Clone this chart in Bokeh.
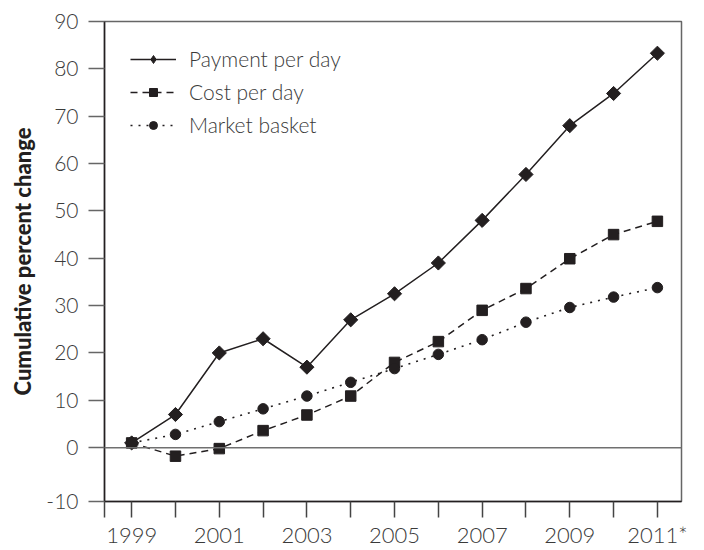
import math
from bokeh.plotting import figure
from bokeh.models import FixedTicker, Span, Range1d, Legend, LegendItem
from bokeh.embed import file_html
from bokeh.resources import INLINE

years = [1999, 2000, 2001, 2002, 2003, 2004, 2005, 2006, 2007, 2008, 2009, 2010, 2011]
payment_per_day = [1.0, 7.0, 20.0, 23.0, 17.0, 27.0, 32.5, 39.0, 48.0, 57.7, 68.0, 74.8, 83.3]
cost_per_day = [1.0, -1.8, -0.2, 3.6, 6.9, 10.9, 18.0, 22.4, 29.0, 33.6, 39.9, 45.0, 47.8]
market_basket = [1.0, 2.8, 5.5, 8.2, 10.9, 13.8, 16.7, 19.7, 22.8, 26.5, 29.6, 31.8, 33.8]

y_ticks = [0, 10, 20, 30, 40, 50, 60, 70, 80, 90]
x_labels = {1999: "1999", 2001: "2001", 2003: "2003", 2005: "2005",
            2007: "2007", 2009: "2009", 2011: "2011*"}

FONT = "Lato Light"
TITLE_FONT = "Lato Black"
INK = "#231f20"
GREY = "#666666"
TXT = "#3a3a3a"

x_start, x_end = 1998.38, 2011.55
y_start, y_end = -11.37, 90

p = figure(width=700, height=550, output_backend="svg", toolbar_location=None,
           x_range=Range1d(x_start, x_end), y_range=Range1d(y_start, y_end),
           min_border_left=104, min_border_right=19, min_border_top=21,
           min_border_bottom=48)
p.grid.visible = False
p.outline_line_color = GREY
p.outline_line_width = 1.5
p.background_fill_color = "white"
p.border_fill_color = "white"

zero = Span(location=0, dimension="width", line_color="#707070", line_width=1.5)
p.add_layout(zero)

l1 = p.line(years, payment_per_day, line_color=INK, line_width=1.5)
m1 = p.scatter(years, payment_per_day, marker="square", angle=math.pi / 4, size=10,
               fill_color=INK, line_color=INK)
# legend-only sample for the diamond symbol (legend ignores marker angle)
m1_key = p.scatter(years, payment_per_day, marker="diamond", size=15,
                   fill_color=INK, line_color=INK, visible=False)
l2 = p.line(years, cost_per_day, line_color=INK, line_width=1.5, line_dash="7 5")
m2 = p.scatter(years, cost_per_day, marker="square", size=10.5,
               fill_color=INK, line_color=INK)
l3 = p.line(years, market_basket, line_color=INK, line_width=1.6, line_dash="2 6")
m3 = p.scatter(years, market_basket, marker="circle", size=10.5,
               fill_color=INK, line_color=INK)

legend = Legend(items=[
    LegendItem(label="Payment per day", renderers=[l1, m1_key]),
    LegendItem(label="Cost per day", renderers=[l2, m2]),
    LegendItem(label="Market basket", renderers=[l3, m3]),
], location=(26, 364))
legend.margin = 0
legend.padding = 0
legend.border_line_color = None
legend.background_fill_alpha = 0
legend.glyph_width = 46
legend.glyph_height = 20
legend.label_height = 20
legend.spacing = 8
legend.label_standoff = 13
legend.label_text_font = FONT
legend.label_text_font_size = "21px"
legend.label_text_color = TXT
p.add_layout(legend)

# x axis
xa = p.xaxis[0]
xticks = [x_start] + years
xa.ticker = FixedTicker(ticks=xticks)
overrides = {}
for t in xticks:
    overrides[t] = x_labels.get(t, "")
xa.major_label_overrides = overrides
xa.minor_tick_line_color = None
xa.major_tick_in = 0
xa.major_tick_out = 16
xa.major_label_standoff = 3
xa.axis_line_color = INK
xa.axis_line_width = 1.5
xa.major_tick_line_color = "#444444"
xa.major_tick_line_width = 1.5
xa.major_label_text_font = FONT
xa.major_label_text_font_size = "22px"
xa.major_label_text_color = TXT

# y axis
ya = p.yaxis[0]
yticks = [y_start] + y_ticks
ya.ticker = FixedTicker(ticks=yticks)
yo = {y_start: "-10"}
for t in y_ticks:
    yo[t] = str(t)
ya.major_label_overrides = yo
ya.minor_tick_line_color = None
ya.major_tick_in = 0
ya.major_tick_out = 16
ya.major_label_standoff = 10
ya.axis_line_color = INK
ya.axis_line_width = 1.5
ya.major_tick_line_color = GREY
ya.major_tick_line_width = 1.5
ya.major_label_text_font = FONT
ya.major_label_text_font_size = "21px"
ya.major_label_text_color = TXT
ya.axis_label = "Cumulative percent change"
ya.axis_label_text_font = TITLE_FONT
ya.axis_label_text_font_style = "normal"
ya.axis_label_text_font_size = "22px"
ya.axis_label_text_color = INK
ya.axis_label_standoff = 7

open("out.html", "w").write(file_html(p, INLINE))
